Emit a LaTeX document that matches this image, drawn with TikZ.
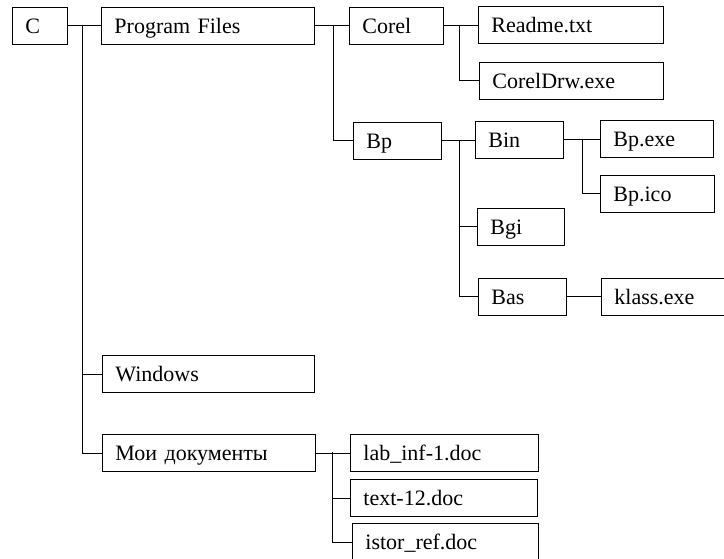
\documentclass[tikz,border=0pt]{standalone}
\usepackage{fontspec}
\setmainfont{Liberation Serif}
\usetikzlibrary{positioning}
\tikzset{
  fbox/.style={draw, line width=0.9pt, anchor=north west, inner ysep=0pt, inner xsep=13pt,
    minimum height=37pt, text height=14.6pt, text depth=0pt, align=left,
    font=\fontsize{22}{26}\selectfont},
  conn/.style={line width=0.9pt}
}
\newcommand{\fb}[5]{% name, left, top, width, text
  \node[fbox, text width=#4pt-26pt] (#1) at (#2,#3) {#5};}
\begin{document}
\begin{tikzpicture}[x=1pt,y=-1pt]
\useasboundingbox (0,0) rectangle (724,559);
\clip (0,0) rectangle (724,559);
\fb{C}{12}{7}{55}{C}
\fb{PF}{101}{7}{213}{Program Files}
\fb{Corel}{349}{7}{94}{Corel}
\fb{Readme}{478}{6}{185}{Readme.txt}
\fb{CDrw}{479}{62}{184}{CorelDrw.exe}
\fb{Bp}{353}{122}{88}{Bp}
\fb{Bin}{475}{121}{88}{Bin}
\fb{Bpexe}{600}{120}{113}{Bp.exe}
\fb{Bpico}{600}{175}{114}{Bp.ico}
\fb{Bgi}{477}{208}{87}{Bgi}
\fb{Bas}{478}{278}{88}{Bas}
\fb{klass}{601}{278}{140}{klass.exe}
\fb{Win}{102}{355}{212}{Windows}
\fb{Moi}{102}{434}{213}{Мои документы}
\fb{lab}{350}{434}{188}{lab\_inf-1.doc}
\fb{txt}{350}{479}{187}{text-12.doc}
\node[fbox, text width=160pt, minimum height=48pt, text depth=11pt] (istor) at (352,523) {istor\_ref.doc};
% junctions
\coordinate (j1) at (82,25);
\coordinate (j2) at (333,25);
\coordinate (j3) at (459,25);
\coordinate (j4) at (459,140);
\coordinate (j5) at (582,139);
\coordinate (j6) at (332,452);
\coordinate (j7) at (332,542);
\draw[conn] (C.east) -- (PF.west);
\draw[conn] (j1) |- (Win.west);
\draw[conn] (j1) |- (Moi.west);
\draw[conn] (PF.east) -- (Corel.west);
\draw[conn] (j2) |- (Bp.west);
\draw[conn] (Corel.east) -- (Readme.west |- Corel.east);
\draw[conn] (j3) |- (CDrw.west);
\draw[conn] (Bp.east) -- (Bin.west |- Bp.east);
\draw[conn] (j4) |- (Bgi.west);
\draw[conn] (j4) |- (Bas.west);
\draw[conn] (Bin.east) -- (Bpexe.west |- Bin.east);
\draw[conn] (j5) |- (Bpico.west);
\draw[conn] (Bas.east) -- (klass.west);
\draw[conn] (Moi.east) -- (lab.west |- Moi.east);
\draw[conn] (j6) |- (txt.west);
\draw[conn] (j6) -- (j7) -- (istor.west |- j7);
\end{tikzpicture}
\end{document}
